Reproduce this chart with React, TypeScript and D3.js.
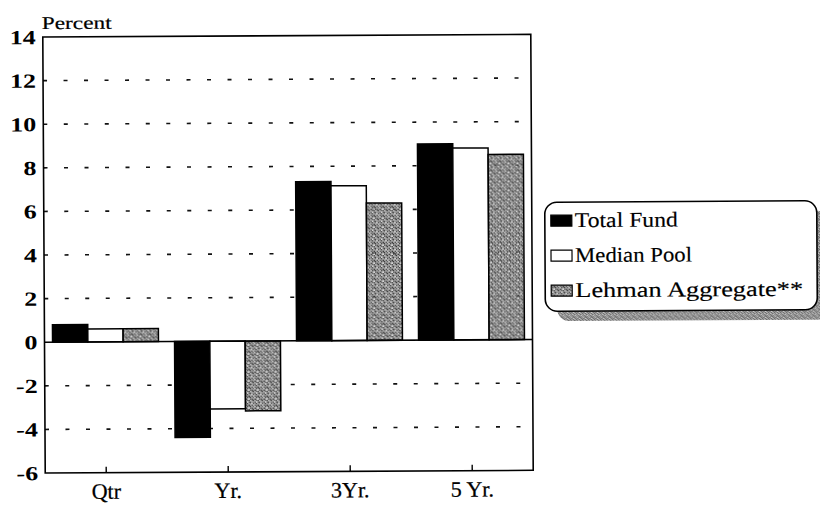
import React from 'react';
import * as d3 from 'd3';

const categories = ['Qtr', 'Yr.', '3Yr.', '5 Yr.'];
const seriesNames = ['Total Fund', 'Median Pool', 'Lehman Aggregate**'];
const totalFund = [0.8, -4.4, 7.3, 9.0];
const medianPool = [0.6, -3.1, 7.1, 8.8];
const lehmanAggregate = [0.6, -3.2, 6.3, 8.5];
const yTicks = [14, 12, 10, 8, 6, 4, 2, 0, -2, -4, -6];
const gridValues = [12, 10, 8, 6, 4, 2, -2, -4];

const FONT = "'Liberation Serif', 'Times New Roman', Times, serif";
const W = 820;
const H = 505;
const plot = { left: 44, right: 532, top: 35, bottom: 471 };

// texture shades for the gray pattern (styling only)
const texShades = [
  ['#5a5a5a', '#c8c8c8', '#404040', '#7c7c7c', '#2e2e2e', '#a0a0a0'],
  ['#909090', '#383838', '#8a8a8a', '#d8d8d8', '#606060', '#484848'],
  ['#2e2e2e', '#b0b0b0', '#5c5c5c', '#3c3c3c', '#c4c4c4', '#747474'],
  ['#8c8c8c', '#4c4c4c', '#e0e0e0', '#686868', '#383838', '#989898'],
  ['#444444', '#949494', '#343434', '#a8a8a8', '#787878', '#d0d0d0'],
  ['#bcbcbc', '#606060', '#848484', '#303030', '#9a9a9a', '#4a4a4a'],
];

export default function App() {
  const x = d3.scaleBand<string>().domain(categories).range([plot.left, plot.right]).paddingInner(0).paddingOuter(0);
  const xs = d3.scaleBand<string>().domain(seriesNames).range([0, x.bandwidth()]).paddingInner(0).paddingOuter(0.228);
  const y = d3.scaleLinear().domain([-6, 14]).range([plot.bottom, plot.top]);

  const series = [
    { name: seriesNames[0], values: totalFund, fill: '#000' },
    { name: seriesNames[1], values: medianPool, fill: '#fff' },
    { name: seriesNames[2], values: lehmanAggregate, fill: 'url(#tex)' },
  ];

  const legendX = 545;
  const legendY = 203;
  const txt = { fontFamily: FONT };

  return (
    <svg width={W} height={H} style={{ position: 'absolute', left: 0, top: 0, background: '#fff', fontFamily: FONT }}>
      <defs>
        <pattern id="tex" width={9} height={9} patternUnits="userSpaceOnUse">
          {texShades.map((row, r) =>
            row.map((c, k) => <rect key={`${r}-${k}`} x={k * 1.5} y={r * 1.5} width={1.5} height={1.5} fill={c} />)
          )}
        </pattern>
        <pattern id="shadow" width={6} height={6} patternUnits="userSpaceOnUse">
          {texShades.map((row, r) =>
            row.map((c, k) => <rect key={`${r}-${k}`} x={k} y={r} width={1} height={1} fill={c} opacity={0.8} />)
          )}
        </pattern>
      </defs>
      <rect width={W} height={H} fill="#fff" />
      <g transform="rotate(-0.32, 410, 252)">
        {gridValues.map((v) => (
          <line
            key={v}
            x1={plot.left}
            x2={plot.right}
            y1={y(v)}
            y2={y(v)}
            stroke="#111"
            strokeWidth={1.6}
            strokeDasharray="4 16.5"
          />
        ))}
        {series.map((s) =>
          s.values.map((v, i) => {
            const bx = (x(categories[i]) as number) + (xs(s.name) as number);
            const y0 = y(Math.max(0, v));
            const y1 = y(Math.min(0, v));
            return (
              <rect
                key={s.name + i}
                x={bx}
                y={y0}
                width={xs.bandwidth()}
                height={y1 - y0}
                fill={s.fill}
                stroke="#000"
                strokeWidth={1.5}
              />
            );
          })
        )}
        <line x1={plot.left} x2={plot.right} y1={y(0)} y2={y(0)} stroke="#000" strokeWidth={1.6} />
        <rect
          x={plot.left}
          y={plot.top}
          width={plot.right - plot.left}
          height={plot.bottom - plot.top}
          fill="none"
          stroke="#000"
          strokeWidth={1.6}
        />
        {categories.map((c) => {
          const cx = (x(c) as number) + x.bandwidth() / 2;
          return (
            <g key={c}>
              <line x1={cx} x2={cx} y1={plot.bottom} y2={plot.bottom - 6} stroke="#000" strokeWidth={1.4} />
              <text x={cx} y={497} textAnchor="middle" fontSize={22} fill="#000" stroke="#000" strokeWidth={0.25} style={txt}>
                {c}
              </text>
            </g>
          );
        })}
        {yTicks.map((v) => (
          <text
            key={v}
            transform={`translate(37, ${y(v) + 7}) scale(1.3, 1)`}
            textAnchor="end"
            fontSize={20}
            fontWeight="bold"
            fill="#000"
            style={txt}
          >
            {v}
          </text>
        ))}
        <text x={43} y={27} fontSize={18} textLength={70} lengthAdjust="spacingAndGlyphs" fill="#000" stroke="#000" strokeWidth={0.2} style={txt}>
          Percent
        </text>
        <rect x={legendX + 12} y={legendY + 10} width={272} height={109} rx={12} fill="url(#shadow)" />
        <rect x={legendX} y={legendY} width={272} height={109} rx={12} fill="#fff" stroke="#000" strokeWidth={1.6} />
        {series.map((s, i) => {
          const rowY = legendY + 13 + i * 35;
          return (
            <g key={s.name}>
              <rect x={legendX + 6} y={rowY} width={21} height={11} fill={s.fill} stroke="#000" strokeWidth={1.2} />
              <text
                x={legendX + 30}
                y={rowY + 12}
                fontSize={21}
                fill="#000"
                stroke="#000"
                strokeWidth={0.15}
                textLength={[103, 117, 228][i]}
                lengthAdjust="spacingAndGlyphs"
                style={txt}
              >
                {s.name}
              </text>
            </g>
          );
        })}
      </g>
    </svg>
  );
}
